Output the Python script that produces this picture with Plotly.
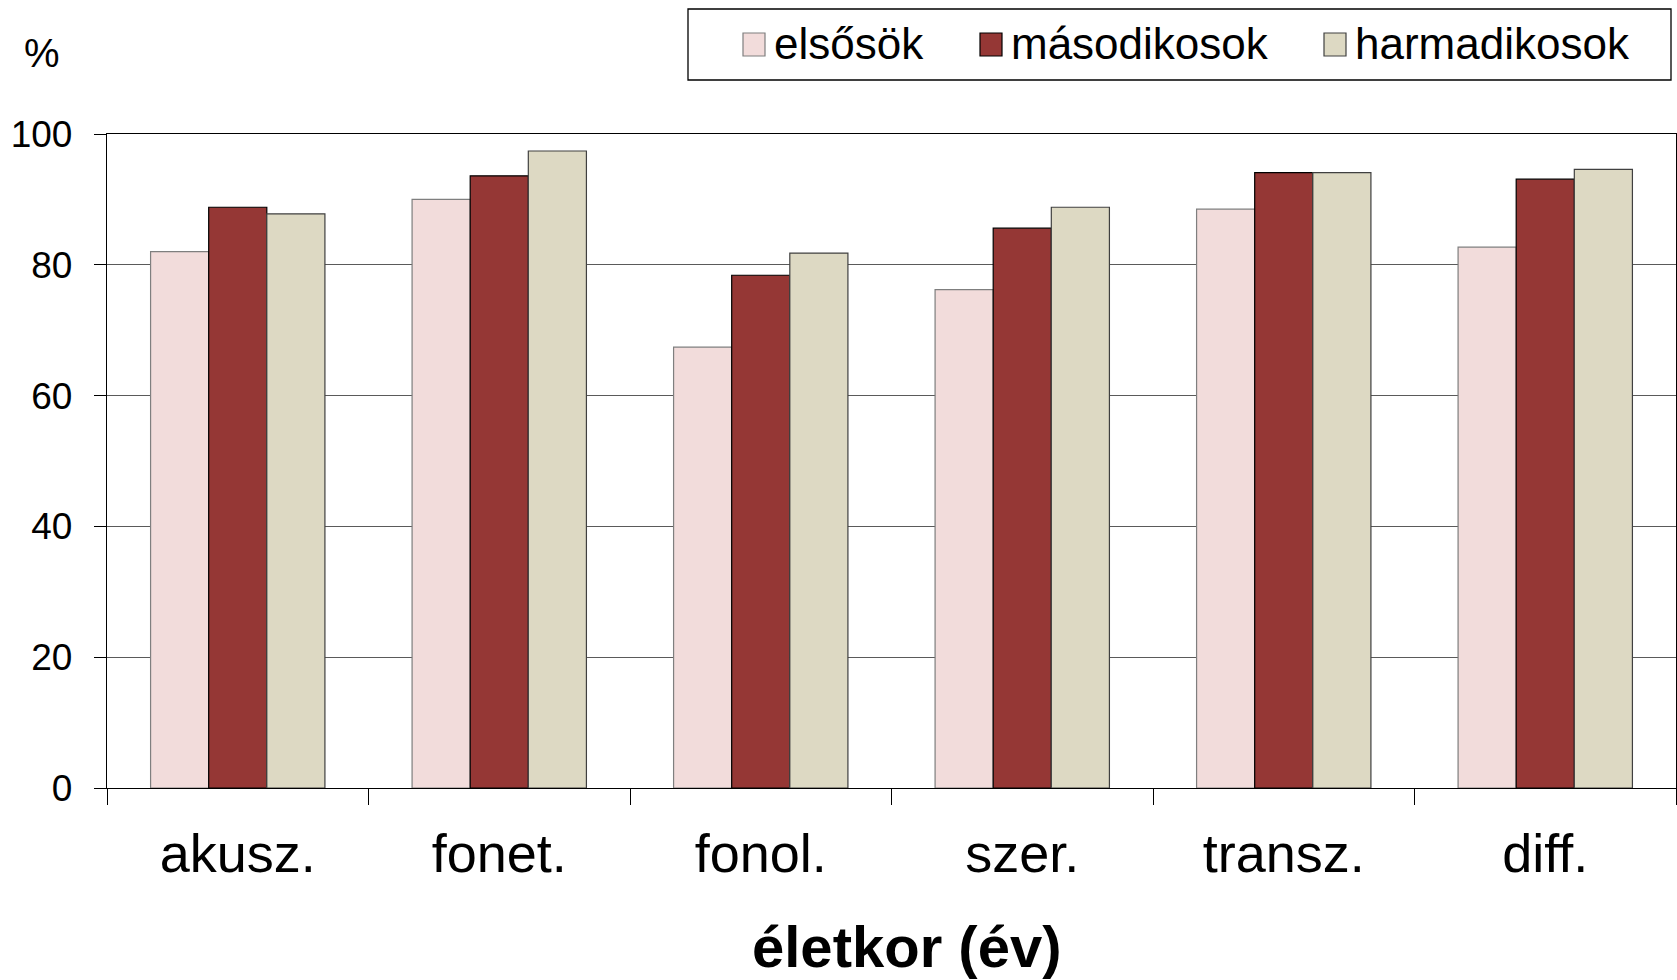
import plotly.graph_objects as go

categories = ["akusz.", "fonet.", "fonol.", "szer.", "transz.", "diff."]
series_names = ["elsősök", "másodikosok", "harmadikosok"]
elsosok = [82.0, 90.0, 67.4, 76.2, 88.5, 82.7]
masodikosok = [88.8, 93.6, 78.4, 85.6, 94.1, 93.1]
harmadikosok = [87.8, 97.4, 81.8, 88.8, 94.1, 94.6]
y_ticks = [0, 20, 40, 60, 80, 100]

colors = ["#F2DCDB", "#953735", "#DDD9C3"]
outlines = ["#7f7f7f", "#000000", "#404040"]
values = [elsosok, masodikosok, harmadikosok]

W, H = 1677, 980
ML, MR, MT, MB = 107, 1, 134, 192
PW, PH = W - ML - MR, H - MT - MB

def px(x):
    return (x - ML) / PW

def py(y):
    return (H - MB - y) / PH

FONT = "Liberation Sans, Arial, sans-serif"

fig = go.Figure()
for name, vals, c, oc in zip(series_names, values, colors, outlines):
    fig.add_trace(go.Bar(
        x=categories, y=vals, name=name, showlegend=False,
        marker=dict(color=c, line=dict(color=oc, width=1.2)),
    ))

fig.update_layout(
    width=W, height=H,
    margin=dict(l=ML, r=MR, t=MT, b=MB, pad=0),
    plot_bgcolor="white", paper_bgcolor="white",
    barmode="group", bargap=1/3, bargroupgap=0,
    font=dict(family=FONT, color="black"),
)
fig.update_xaxes(
    type="category", tickson="boundaries", ticks="outside", ticklen=16,
    tickcolor="black", tickwidth=1.3, showline=True, linecolor="black",
    linewidth=1.3, mirror=True, showgrid=False,
    tickfont=dict(family=FONT, size=54, color="black"), ticklabelstandoff=18,
)
fig.update_yaxes(
    range=[0, 100], tickvals=y_ticks, ticks="outside", ticklen=12,
    tickcolor="black", tickwidth=1.3, showline=True, linecolor="black",
    linewidth=1.3, mirror=True, showgrid=True, gridcolor="#5a5a5a",
    gridwidth=1.3, zeroline=False,
    tickfont=dict(family=FONT, size=37, color="black"), ticklabelstandoff=14,
)

shapes = []
annotations = []
# legend box
shapes.append(dict(type="rect", xref="paper", yref="paper",
                   x0=px(688), x1=px(1671), y0=py(80), y1=py(9),
                   line=dict(color="black", width=1.3), fillcolor="white", layer="above"))
sw_x = [743, 980, 1324]
for name, c, oc, sx in zip(series_names, colors, outlines, sw_x):
    shapes.append(dict(type="rect", xref="paper", yref="paper",
                       x0=px(sx), x1=px(sx + 22), y0=py(56), y1=py(33),
                       line=dict(color=oc, width=1.2), fillcolor=c, layer="above"))
    annotations.append(dict(text=name, xref="paper", yref="paper",
                            x=px(sx + 29), y=py(44), xanchor="left", yanchor="middle",
                            showarrow=False, font=dict(family=FONT, size=44, color="black")))

annotations.append(dict(text="%", xref="paper", yref="paper", x=px(42), y=py(53),
                        xanchor="center", yanchor="middle", showarrow=False,
                        font=dict(family=FONT, size=40, color="black")))
annotations.append(dict(text="<b>életkor (év)</b>", xref="paper", yref="paper",
                        x=px(906), y=py(946), xanchor="center", yanchor="middle",
                        showarrow=False, font=dict(family=FONT, size=58, color="black")))

fig.update_layout(shapes=shapes, annotations=annotations)
fig.write_html("out.html", config={"displayModeBar": False},
               post_script="document.body.style.margin='0';document.body.style.overflow='hidden';")
